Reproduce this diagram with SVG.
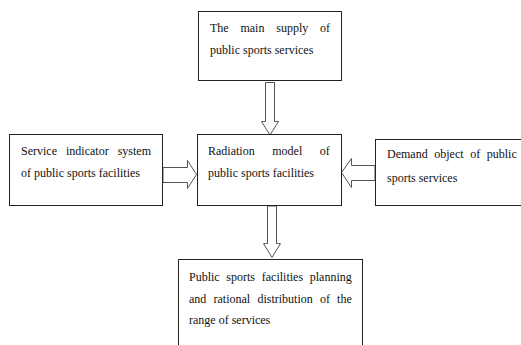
<svg xmlns="http://www.w3.org/2000/svg" width="521" height="345" viewBox="0 0 521 345">
<style>
.box{fill:#fff;stroke:#222;stroke-width:1}
.arr{fill:#fff;stroke:#555;stroke-width:1;stroke-linejoin:miter}
text{font-family:'Liberation Serif','Times New Roman',serif;font-size:12px;fill:#111}
</style>
<rect width="521" height="345" fill="#fff"/>
<g id="connectors">
<polygon class="arr" points="265.5,82.5 274.5,82.5 274.5,121.5 278.5,121.5 270,135 261.5,121.5 265.5,121.5"/>
<polygon class="arr" points="267.5,206 276.5,206 276.5,243.5 280.5,243.5 272,257.5 263.5,243.5 267.5,243.5"/>
<polygon class="arr" points="163,167.5 187.5,167.5 187.5,160.5 196.5,174.5 187.5,188.5 187.5,182.5 163,182.5"/>
<polygon class="arr" points="375,165.5 351.5,165.5 351.5,158.5 341.5,172.5 351.5,187.5 351.5,180.5 375,180.5"/>
</g>
<g id="top">
<rect class="box" x="198.5" y="11.5" width="143" height="69"/>
<text x="210" y="32" word-spacing="8.8">The main supply of</text>
<text x="210" y="54">public sports services</text>
</g>
<g id="left">
<rect class="box" x="9.5" y="134.5" width="153" height="71"/>
<text x="21" y="155" word-spacing="6">Service indicator system</text>
<text x="21" y="177">of public sports facilities</text>
</g>
<g id="center">
<rect class="box" x="197.5" y="134.5" width="144" height="71"/>
<text x="208" y="155" word-spacing="14.6">Radiation model of</text>
<text x="208" y="177">public sports facilities</text>
</g>
<g id="right">
<rect class="box" x="375.5" y="139.5" width="160" height="66"/>
<text x="387" y="158" word-spacing="3.6">Demand object of public</text>
<text x="387" y="182">sports services</text>
</g>
<g id="bottom">
<rect class="box" x="178.5" y="259.5" width="184" height="100"/>
<text x="189" y="281" word-spacing="3.7">Public sports facilities planning</text>
<text x="189" y="303" word-spacing="4.2">and rational distribution of the</text>
<text x="189" y="324">range of services</text>
</g>
</svg>
